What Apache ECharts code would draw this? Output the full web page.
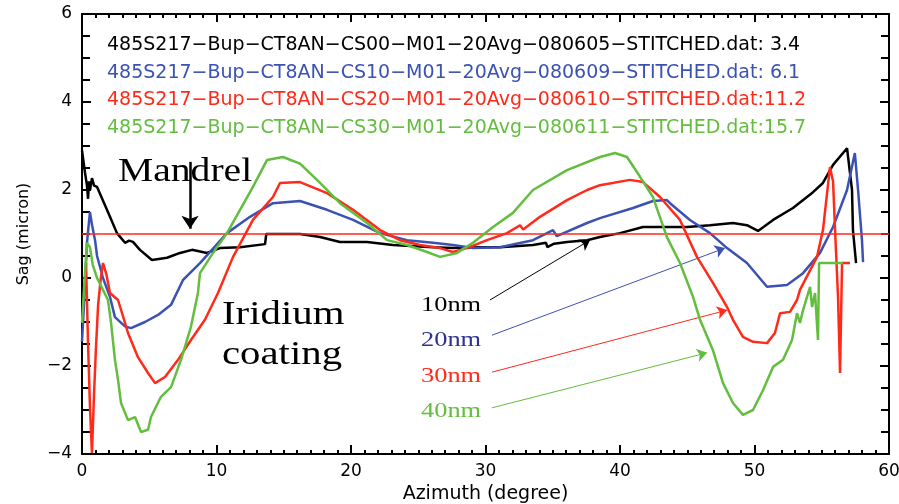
<!DOCTYPE html>
<html>
<head>
<meta charset="utf-8">
<script src="https://cdn.jsdelivr.net/npm/echarts@6/dist/echarts.min.js"></script>
<style>
  html, body { margin: 0; padding: 0; background: #fff; }
  #chart { width: 899px; height: 504px; }
</style>
</head>
<body>
<div id="chart"></div>
<script>
// azimuth (degree), sag (micron) pairs
const cs00 = [[0,2.9],[0.22,2.4],[0.37,2.1],[0.45,1.8],[0.52,2.2],[0.6,2.0],[0.74,2.27],[0.9,2.1],[1.12,2.07],[1.5,1.8],[2.08,1.39],[2.6,1.02],[3.2,0.8],[3.5,0.85],[3.79,0.82],[4.31,0.64],[5.2,0.41],[6.32,0.46],[7.29,0.57],[8.18,0.64],[9.29,0.57],[10.26,0.68],[11.75,0.7],[13.61,0.77],[13.7,1.0],[16.21,1.0],[17.7,0.93],[19.18,0.82],[21.19,0.82],[23.12,0.75],[26.1,0.7],[27.58,0.68],[29.59,0.7],[31.08,0.7],[33.53,0.75],[34.5,0.8],[34.6,0.7],[35.1,0.78],[36.06,0.82],[37.55,0.86],[38.51,0.93],[40.0,1.02],[41.71,1.16],[43.49,1.16],[44.98,1.16],[46.69,1.2],[48.4,1.25],[49.44,1.2],[50.26,1.07],[51.38,1.32],[52.86,1.59],[54.35,1.95],[55.09,2.16],[55.84,2.57],[56.88,2.95],[57.25,2.0],[57.32,1.09],[57.55,0.34]];
const cs10 = [[0,-1.45],[0.2,-0.3],[0.37,0.8],[0.59,1.5],[0.75,1.2],[0.97,0.86],[1.12,0.5],[1.34,0.25],[1.56,0.0],[2.08,-0.43],[2.45,-0.89],[3.2,-1.1],[3.64,-1.14],[4.68,-1.0],[5.65,-0.84],[6.62,-0.61],[7.5,-0.05],[8.77,0.34],[10.78,1.02],[12.49,1.39],[14.2,1.7],[16.21,1.75],[18.22,1.55],[20.15,1.32],[22.16,1.02],[24.16,0.86],[26.1,0.8],[27.58,0.75],[29.07,0.68],[31.08,0.7],[33.53,0.86],[35.02,1.09],[35.3,0.95],[37.55,1.25],[38.51,1.36],[40.97,1.59],[42.45,1.75],[43.49,1.77],[43.72,1.7],[45.2,1.32],[46.69,1.02],[47.96,0.68],[49.44,0.34],[50.93,-0.2],[52.42,-0.16],[53.61,0.11],[54.87,0.57],[55.84,1.16],[56.88,2.0],[57.46,2.84],[57.7,2.0],[57.99,0.86],[58.07,0.36]];
const cs20 = [[0.3,0.34],[0.45,-1.5],[0.6,-3.0],[0.74,-3.98],[0.9,-2.6],[1.04,-1.57],[1.2,-0.6],[1.4,0.0],[1.56,0.34],[1.8,0.1],[2.08,-0.34],[2.68,-0.5],[3.2,-1.02],[3.42,-1.25],[4.16,-1.8],[4.91,-2.16],[5.43,-2.39],[6.17,-2.25],[7.14,-1.86],[8.1,-1.41],[9.14,-0.95],[10.11,-0.34],[11.23,0.48],[12.71,1.32],[14.2,1.84],[14.72,2.16],[16.21,2.18],[18.22,1.93],[20.15,1.55],[22.16,1.09],[23.64,0.86],[25.13,0.75],[26.62,0.68],[27.58,0.59],[28.62,0.68],[30.11,0.86],[31.6,1.02],[32.57,1.2],[32.8,1.1],[34.05,1.39],[36.06,1.77],[37.55,2.0],[38.51,2.11],[40.74,2.23],[41.71,2.18],[42.97,1.84],[44.46,1.32],[45.72,0.48],[46.91,-0.11],[47.96,-0.66],[48.4,-0.95],[49.14,-1.34],[49.89,-1.45],[50.93,-1.48],[51.52,-1.25],[51.9,-0.8],[52.64,-0.77],[53.16,-0.5],[53.38,-0.27],[54.65,0.48],[55.09,1.09],[55.61,2.52],[55.84,2.2],[55.99,1.09],[56.21,-0.43],[56.36,-2.16],[56.51,0.34],[57.1,0.34]];
const cs30 = [[0,-1.02],[0.2,0.0],[0.37,0.8],[0.59,0.7],[0.8,0.3],[1.12,0.0],[1.56,-0.27],[1.93,-0.5],[2.16,-1.02],[2.45,-1.86],[2.68,-2.32],[2.9,-2.84],[3.42,-3.23],[3.94,-3.16],[4.39,-3.5],[4.91,-3.45],[5.13,-3.16],[5.87,-2.7],[6.62,-2.48],[7.36,-1.86],[8.1,-1.11],[8.62,-0.34],[8.77,0.11],[9.74,0.57],[10.78,1.02],[11.75,1.55],[12.71,2.07],[13.75,2.68],[14.94,2.75],[16.21,2.6],[17.7,2.16],[19.18,1.7],[21.19,1.25],[22.68,0.86],[24.16,0.75],[25.65,0.59],[26.62,0.48],[27.88,0.57],[29.07,0.8],[30.56,1.16],[32.04,1.48],[33.53,2.0],[36.06,2.45],[38.51,2.75],[39.63,2.84],[40.52,2.75],[41.49,2.3],[42.45,1.84],[43.49,0.93],[44.46,0.34],[45.43,-0.43],[45.95,-0.95],[46.91,-1.64],[47.66,-2.39],[48.4,-2.84],[49.14,-3.11],[49.89,-3.0],[50.63,-2.55],[51.38,-2.02],[52.12,-1.86],[52.79,-1.41],[53.16,-0.8],[53.38,-1.02],[53.61,-0.73],[54.13,-0.2],[54.28,-0.66],[54.5,-0.34],[54.72,-1.41],[54.8,0.34],[56.58,0.34]];

const names = [
  '485S217−Bup−CT8AN−CS00−M01−20Avg−080605−STITCHED.dat: 3.4',
  '485S217−Bup−CT8AN−CS10−M01−20Avg−080609−STITCHED.dat: 6.1',
  '485S217−Bup−CT8AN−CS20−M01−20Avg−080610−STITCHED.dat:11.2',
  '485S217−Bup−CT8AN−CS30−M01−20Avg−080611−STITCHED.dat:15.7'
];
const colors = ['#000000', '#3b52b4', '#ff2a1a', '#63bd3e'];
const seriesData = [cs00, cs10, cs20, cs30];

// arrow annotations, in data units: [from, to]
const arrows = [
  [[30.33, -0.5], [37.77, 0.86]],
  [[30.48, -1.3], [47.8, 0.68]],
  [[30.48, -2.14], [47.96, -0.73]],
  [[30.48, -2.95], [46.47, -1.7]]
];
const mandrelArrow = [[8.03, 2.64], [8.03, 1.12]];
const refLevel = 1;

const chart = echarts.init(document.getElementById('chart'));

const tickFont = { fontFamily: 'DejaVu Sans', fontSize: 17, color: '#000' };
const minus = v => String(v).replace('-', '−');

function arrowPair(a) {
  return [
    { coord: a[0], symbol: 'none' },
    { coord: a[1], symbol: 'arrow' }
  ];
}

const series = seriesData.map((d, i) => ({
  name: names[i],
  type: 'line',
  data: d,
  showSymbol: false,
  lineStyle: { color: colors[i], width: 2.5 },
  itemStyle: { color: colors[i] },
  z: 3 + i,
  markLine: {
    silent: true,
    symbol: ['none', 'none'],
    symbolSize: 10,
    label: { show: false },
    lineStyle: { color: colors[i], width: 1, type: 'solid' },
    data: [arrowPair(arrows[i])]
  }
}));
// Mandrel arrow on the black curve
series[0].markLine.data.push([
  { coord: mandrelArrow[0], symbol: 'none', lineStyle: { width: 2.5, color: '#000' } },
  { coord: mandrelArrow[1], symbol: 'arrow', symbolSize: 13 }
]);
// reference level on the red curve
series[2].markLine.data.push({ yAxis: refLevel, lineStyle: { width: 1.5, color: '#ff2a1a' } });

const serifText = (text, x, y, size, color) => ({
  type: 'text',
  x: x, y: y,
  scaleX: 1.2,
  z: 20,
  style: {
    text: text,
    fontFamily: 'Liberation Serif',
    fontSize: size,
    fill: color,
    verticalAlign: 'middle'
  }
});

const frameAxis = (extra) => Object.assign({
  type: 'value',
  axisLine: { onZero: false, lineStyle: { color: '#000', width: 2 } },
  splitLine: { show: false },
  axisLabel: { show: false }
}, extra);

chart.setOption({
  animation: false,
  backgroundColor: '#fff',
  grid: { left: 82, right: 10, top: 14, bottom: 50, outerBoundsMode: 'none', containLabel: false },
  legend: {
    orient: 'vertical',
    left: 97,
    top: 31,
    icon: 'none',
    itemWidth: 0,
    itemHeight: 10,
    itemGap: 8.5,
    selectedMode: false,
    textStyle: { fontFamily: 'DejaVu Sans', fontSize: 19 },
    data: names.map((n, i) => ({ name: n, textStyle: { color: colors[i] } }))
  },
  xAxis: [frameAxis({
    min: 0, max: 60, interval: 10,
    name: 'Azimuth (degree)',
    nameLocation: 'middle',
    nameGap: 30,
    nameTextStyle: { fontFamily: 'DejaVu Sans', fontSize: 19, color: '#000' },
    axisTick: { inside: true, length: 9, lineStyle: { width: 2, color: '#000' } },
    minorTick: { show: true, splitNumber: 10, length: 4, lineStyle: { width: 2, color: '#000' } },
    axisLabel: Object.assign({ show: true, margin: 9 }, tickFont)
  }), frameAxis({
    position: 'top',
    min: 0, max: 60, interval: 10,
    axisTick: { inside: true, length: 8, lineStyle: { width: 2, color: '#000' } },
    minorTick: { show: true, splitNumber: 10, length: 4, lineStyle: { width: 2, color: '#000' } }
  })],
  yAxis: [frameAxis({
    min: -4, max: 6, interval: 2,
    name: 'Sag (micron)',
    nameLocation: 'middle',
    nameRotate: 90,
    nameGap: 50,
    nameTextStyle: { fontFamily: 'DejaVu Sans', fontSize: 16, color: '#000' },
    axisTick: { inside: true, length: 9, lineStyle: { width: 2, color: '#000' } },
    minorTick: { show: true, splitNumber: 4, length: 8, lineStyle: { width: 2, color: '#000' } },
    axisLabel: Object.assign({ show: true, margin: 10, formatter: minus }, tickFont)
  }), frameAxis({
    position: 'right',
    min: -4, max: 6, interval: 2,
    axisTick: { inside: true, length: 9, lineStyle: { width: 2, color: '#000' } },
    minorTick: { show: true, splitNumber: 4, length: 8, lineStyle: { width: 2, color: '#000' } }
  })],
  graphic: [
    serifText('Mandrel', 118, 172, 33, '#000'),
    serifText('Iridium', 222, 315, 34, '#000'),
    serifText('coating', 222, 355, 34, '#000'),
    serifText('10nm', 421, 305, 22, '#000'),
    serifText('20nm', 421, 340, 22, '#2e3192'),
    serifText('30nm', 421, 376, 22, '#ff2a1a'),
    serifText('40nm', 421, 411, 22, '#63bd3e')
  ],
  series: series
});
</script>
</body>
</html>
